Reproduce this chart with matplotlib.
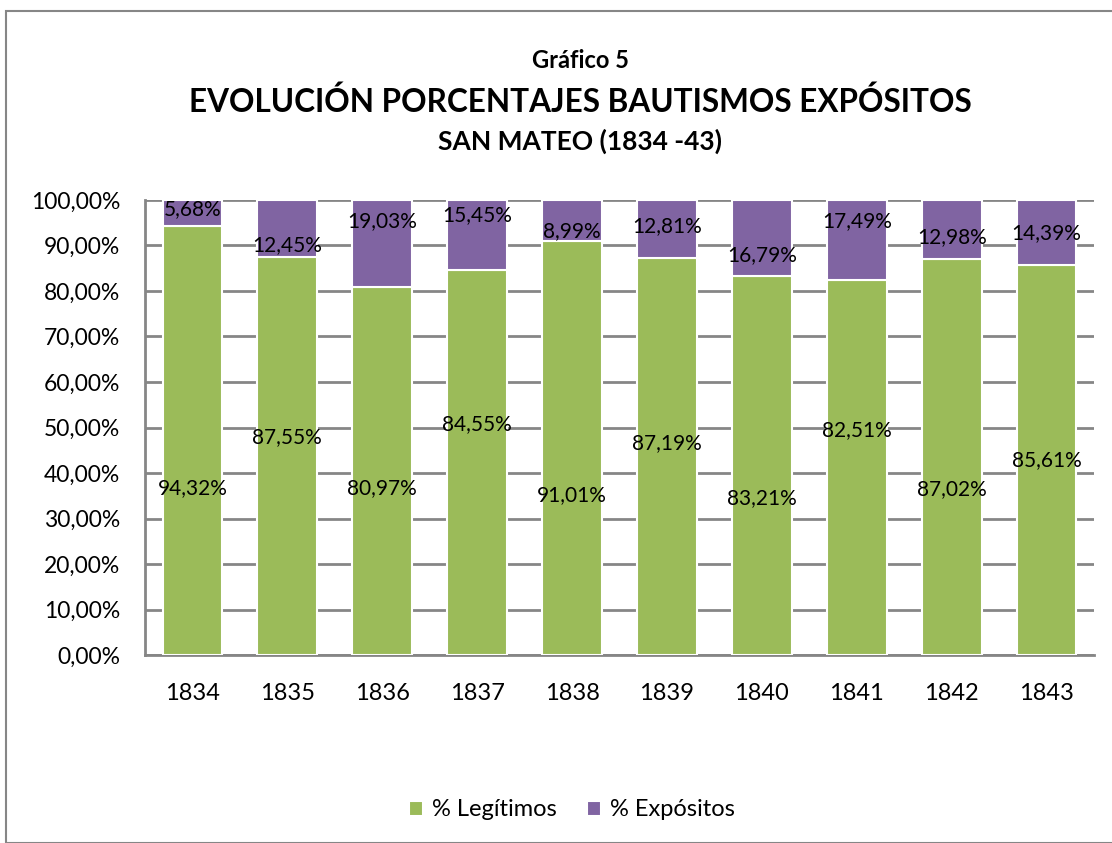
import matplotlib
matplotlib.use("Agg")
import matplotlib.pyplot as plt
from matplotlib.patches import Rectangle

plt.rcParams['font.family'] = ['Lato', 'DejaVu Sans']

years = ['1834', '1835', '1836', '1837', '1838', '1839', '1840', '1841', '1842', '1843']
legitimos = [94.32, 87.55, 80.97, 84.55, 91.01, 87.19, 83.21, 82.51, 87.02, 85.61]
expositos = [5.68, 12.45, 19.03, 15.45, 8.99, 12.81, 16.79, 17.49, 12.98, 14.39]

# where the labels sit (as in the original sheet, moved by hand)
leg_label_y = [36.7, 47.9, 36.7, 50.8, 35.2, 46.6, 34.5, 49.5, 36.5, 42.9]
exp_label_y = [98.0, 90.1, 95.4, 96.7, 93.2, 94.3, 87.9, 95.4, 91.9, 92.7]

green = '#9BBB59'
purple = '#8064A2'
grey = '#868686'

fig = plt.figure(figsize=(11.12, 8.43), dpi=100)
fig.patches.append(Rectangle((6 / 1112, 0), 1.2, 1 - 11 / 843, transform=fig.transFigure,
                             fill=False, edgecolor=grey, lw=1.5))

ax = fig.add_axes([145 / 1112, 1 - 655 / 843, (1094 - 145) / 1112, 455 / 843])
x = list(range(len(years)))
ax.bar(x, legitimos, width=0.63, color=green, edgecolor='white', lw=1.5, zorder=3, label='% Legítimos')
ax.bar(x, expositos, bottom=legitimos, width=0.63, color=purple, edgecolor='white', lw=1.5,
       zorder=3, label='% Expósitos')

for i in x:
    ax.text(i, leg_label_y[i], ('%.2f%%' % legitimos[i]).replace('.', ','), ha='center', va='center',
            fontsize=15, zorder=4)
    ax.text(i, exp_label_y[i], ('%.2f%%' % expositos[i]).replace('.', ','), ha='center', va='center',
            fontsize=15, zorder=4)

ax.set_xlim(-0.5, len(years) - 0.5)
ax.set_ylim(0, 100)
ax.set_yticks(range(0, 101, 10))
ax.set_yticklabels([('%d,00%%' % v) for v in range(0, 101, 10)], fontsize=16.5)
ax.set_xticks(x)
ax.set_xticklabels(years, fontsize=17)
ax.tick_params(axis='y', length=0, pad=18)
ax.tick_params(axis='x', length=0, pad=20)
ax.yaxis.grid(True, color=grey, lw=2, zorder=0)
for s in ['top', 'right']:
    ax.spines[s].set_visible(False)
for s in ['left', 'bottom']:
    ax.spines[s].set_color(grey)
    ax.spines[s].set_linewidth(2)

fig.text(0.522, 1 - 60 / 843, 'Gráfico 5', ha='center', va='center', fontsize=17, fontweight='bold')
fig.text(0.522, 1 - 102 / 843, 'EVOLUCIÓN PORCENTAJES BAUTISMOS EXPÓSITOS', ha='center', va='center',
         fontsize=22.7, fontweight='bold')
fig.text(0.522, 1 - 141 / 843, 'SAN MATEO (1834 -43)', ha='center', va='center', fontsize=19,
         fontweight='bold')

fig.legend(loc='center', bbox_to_anchor=(572 / 1112, 1 - 810 / 843), ncol=2, frameon=False,
           fontsize=17, handlelength=0.6, handleheight=0.6, columnspacing=1.25, handletextpad=0.4)

fig.savefig('out.png', dpi=100)
